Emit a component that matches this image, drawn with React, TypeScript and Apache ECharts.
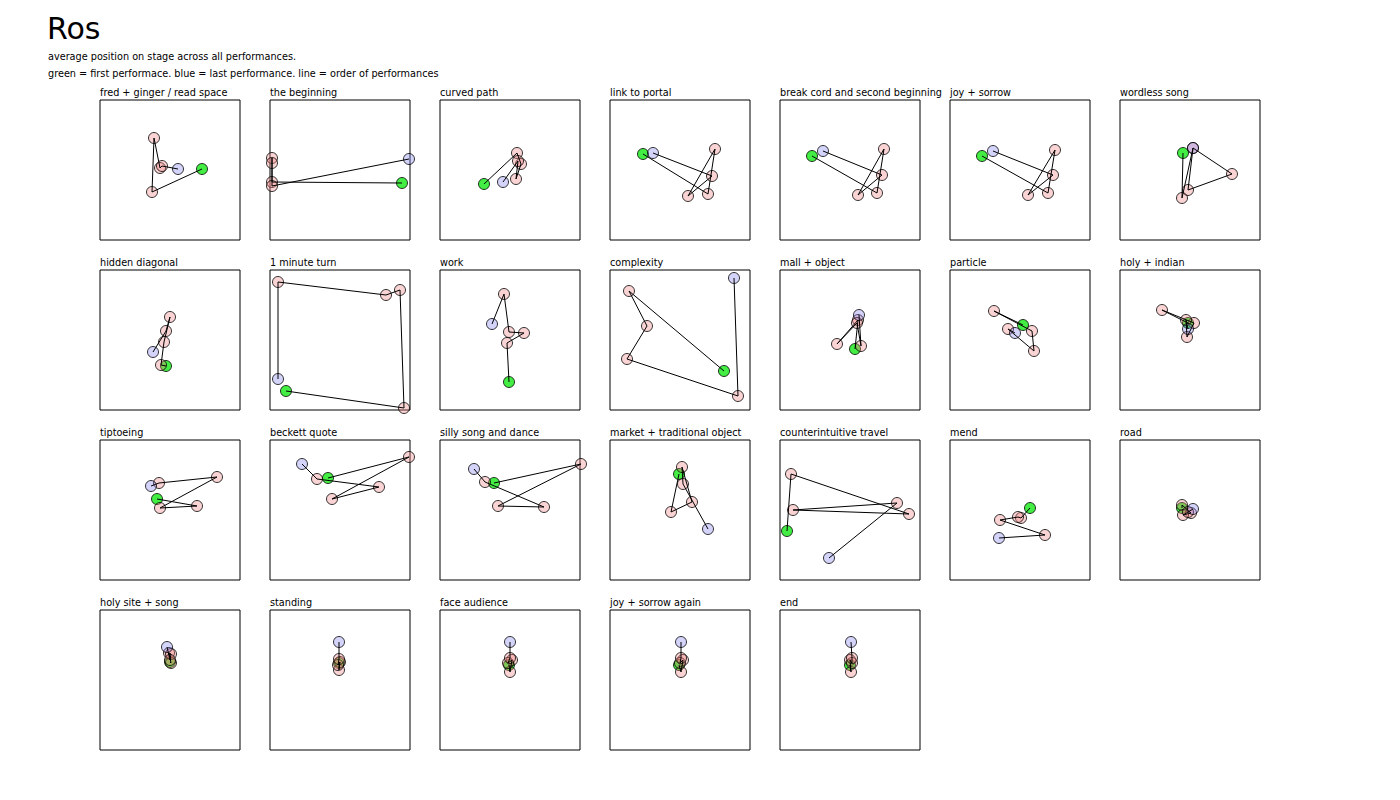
import React, { useEffect, useRef } from "react";
import * as echarts from "echarts";

const mainTitle = "Ros";
const subLines = [
  "average position on stage across all performances.",
  "green = first performace. blue = last performance. line = order of performances",
];

const titles = [
  "fred + ginger / read space", "the beginning", "curved path", "link to portal",
  "break cord and second beginning", "joy + sorrow", "wordless song",
  "hidden diagonal", "1 minute turn", "work", "complexity", "mall + object",
  "particle", "holy + indian", "tiptoeing", "beckett quote", "silly song and dance",
  "market + traditional object", "counterintuitive travel", "mend", "road",
  "holy site + song", "standing", "face audience", "joy + sorrow again", "end",
];

// stage x position per performance (first .. last), stage width 0..140
const posX = [
  [102, 52, 54, 60, 62, 78],
  [132, 2, 2, 2, 2, 139],
  [44, 77, 81, 76, 78, 63],
  [33, 98, 105, 78, 102, 43],
  [32, 97, 104, 78, 102, 43],
  [32, 98, 105, 78, 103, 43],
  [63, 62, 73, 112, 68, 73],
  [66, 61, 64, 70, 66, 53],
  [16, 134, 130, 116, 8, 8],
  [69, 67, 84, 69, 64, 52],
  [114, 19, 37, 17, 128, 124],
  [75, 78, 57, 77, 81, 79],
  [73, 44, 82, 84, 58, 65],
  [68, 42, 74, 67, 66, 68],
  [57, 97, 60, 117, 59, 51],
  [58, 139, 62, 109, 47, 32],
  [54, 141, 58, 104, 45, 34],
  [69, 61, 82, 72, 73, 98],
  [7, 11, 129, 13, 117, 49],
  [80, 71, 68, 50, 95, 49],
  [62, 62, 71, 63, 68, 73],
  [70, 71, 69, 71, 70, 67],
  [69, 69, 70, 68, 69, 69],
  [69, 70, 72, 68, 70, 70],
  [69, 71, 73, 70, 71, 71],
  [70, 71, 70, 72, 72, 71],
];

// stage depth position per performance (0 = back/top), 0..140
const posY = [
  [69, 92, 38, 68, 66, 69],
  [83, 82, 58, 63, 86, 59],
  [84, 53, 64, 79, 61, 82],
  [54, 94, 49, 96, 76, 53],
  [56, 93, 49, 95, 75, 51],
  [56, 93, 50, 95, 75, 51],
  [53, 98, 48, 74, 90, 48],
  [96, 95, 72, 47, 61, 82],
  [121, 138, 20, 25, 12, 109],
  [112, 73, 63, 62, 24, 54],
  [101, 21, 56, 89, 126, 8],
  [79, 50, 74, 53, 76, 45],
  [55, 41, 61, 81, 59, 63],
  [53, 40, 53, 67, 50, 59],
  [59, 66, 68, 37, 43, 46],
  [38, 17, 59, 47, 39, 24],
  [43, 24, 66, 67, 42, 29],
  [34, 72, 62, 27, 44, 89],
  [91, 34, 74, 70, 63, 118],
  [68, 78, 77, 80, 95, 98],
  [68, 65, 73, 75, 72, 69],
  [52, 53, 43, 44, 50, 37],
  [53, 60, 52, 55, 49, 32],
  [55, 62, 50, 53, 48, 32],
  [55, 62, 50, 53, 48, 32],
  [55, 62, 50, 53, 48, 32],
];

const FONT = "DejaVu Sans";
const SMALL = 9.7;
const COLS = 7;
const GX = 100, GY = 100, STEP = 170, SIZE = 140;
const PINK = "rgba(240,128,128,0.42)";
const BLUE = "rgba(128,128,240,0.42)";
const GREEN = "rgba(0,230,0,0.92)";

export default function App() {
  const ref = useRef<HTMLDivElement>(null);
  useEffect(() => {
    if (!ref.current) return;
    const chart = echarts.init(ref.current, undefined, { renderer: "svg" });
    const grids: any[] = [];
    const xAxes: any[] = [];
    const yAxes: any[] = [];
    const series: any[] = [];
    const small = { fontFamily: FONT, fontSize: SMALL, fontWeight: "normal", color: "#000" };
    const titleArr: any[] = [
      { text: mainTitle, left: 47, top: 13, padding: 0, textStyle: { fontFamily: FONT, fontSize: 30, fontWeight: "normal", color: "#000" } },
      { text: subLines[0], left: 48, top: 51, padding: 0, textStyle: small },
      { text: subLines[1], left: 48, top: 68, padding: 0, textStyle: small },
    ];
    titles.forEach((t, i) => {
      const col = i % COLS;
      const row = Math.floor(i / COLS);
      const left = GX + col * STEP;
      const top = GY + row * STEP;
      grids.push({ left, top, width: SIZE, height: SIZE, show: true, borderColor: "#000", borderWidth: 1, backgroundColor: "#fff" });
      xAxes.push({ gridIndex: i, type: "value", min: 0, max: 140, show: false });
      yAxes.push({ gridIndex: i, type: "value", min: 0, max: 140, inverse: true, show: false });
      titleArr.push({ text: t, left, top: top - 13, padding: 0, textStyle: small });
      const xs = posX[i];
      const ys = posY[i];
      const n = xs.length;
      series.push({
        type: "scatter",
        xAxisIndex: i,
        yAxisIndex: i,
        clip: false,
        symbol: "circle",
        symbolSize: 11,
        z: 2,
        data: xs.map((x, k) => ({
          value: [x, ys[k]],
          itemStyle: { color: k === 0 ? GREEN : k === n - 1 ? BLUE : PINK, borderColor: "#000", borderWidth: 1 },
        })),
      });
      series.push({
        type: "line",
        xAxisIndex: i,
        yAxisIndex: i,
        clip: false,
        showSymbol: false,
        symbol: "none",
        z: 3,
        lineStyle: { color: "#000", width: 1 },
        data: xs.map((x, k) => [x, ys[k]]),
      });
    });
    chart.setOption({
      animation: false,
      backgroundColor: "#fff",
      title: titleArr,
      grid: grids,
      xAxis: xAxes,
      yAxis: yAxes,
      series,
    });
    return () => chart.dispose();
  }, []);
  return <div ref={ref} style={{ position: "fixed", left: 0, top: 0, width: 1400, height: 800 }} />;
}
